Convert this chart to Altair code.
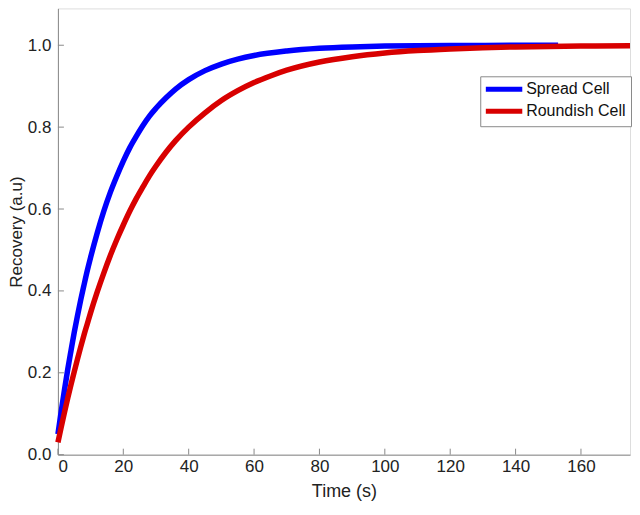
import altair as alt
import pandas as pd

# Values
spread_t = [0, 1, 2, 3, 4, 5, 6, 7, 8, 9, 10, 12, 14, 16, 18, 20, 22, 24, 26, 28, 30, 33, 36, 40, 45, 50, 55, 60, 70, 80, 90, 100, 120, 140, 153]
spread_v = [0.05, 0.105, 0.158, 0.208, 0.254, 0.299, 0.340, 0.379, 0.415, 0.450, 0.482, 0.541, 0.594, 0.640, 0.680, 0.717, 0.750, 0.778, 0.804, 0.827, 0.846, 0.871, 0.893, 0.916, 0.938, 0.954, 0.966, 0.975, 0.986, 0.9925, 0.996, 0.998, 0.9994, 0.9998, 1.0]

round_t = [0, 1, 2, 3, 4, 5, 6, 7, 8, 9, 10, 12, 14, 16, 18, 20, 22, 24, 26, 28, 30, 33, 36, 40, 45, 50, 55, 60, 65, 70, 80, 90, 100, 110, 120, 130, 140, 150, 160, 175]
round_v = [0.03, 0.067, 0.103, 0.138, 0.171, 0.203, 0.234, 0.264, 0.293, 0.320, 0.347, 0.397, 0.443, 0.486, 0.525, 0.561, 0.595, 0.626, 0.654, 0.681, 0.705, 0.738, 0.767, 0.800, 0.835, 0.865, 0.889, 0.909, 0.925, 0.939, 0.959, 0.972, 0.981, 0.987, 0.991, 0.994, 0.996, 0.997, 0.998, 0.999]

series_names = ["Spread Cell", "Roundish Cell"]
series_colors = ["#0000ff", "#d80000"]

x_ticks = [0, 20, 40, 60, 80, 100, 120, 140, 160]
y_ticks = [0.0, 0.2, 0.4, 0.6, 0.8, 1.0]

df = pd.DataFrame(
    [{"series": series_names[0], "t": t, "v": v} for t, v in zip(spread_t, spread_v)]
    + [{"series": series_names[1], "t": t, "v": v} for t, v in zip(round_t, round_v)]
)

W, H = 573, 447
FONT = "Liberation Sans"
AXIS_GRAY = "#8a8a8a"

xscale = alt.Scale(domain=[0, 175], nice=False, zero=False)
yscale = alt.Scale(domain=[0, 1.09], nice=False)

lines = alt.Chart(df).mark_line(strokeWidth=5.5, interpolate="monotone", strokeCap="butt").encode(
    x=alt.X("t:Q", scale=xscale, title="Time (s)",
            axis=alt.Axis(values=x_ticks, grid=False, ticks=False, tickSize=0, domainColor=AXIS_GRAY,
                          labelFontSize=17, titleFontSize=18, labelPadding=4, titlePadding=8,
                          labelColor="#222", titleColor="#222", titleFontWeight="normal",
                          labelFont=FONT, titleFont=FONT)),
    y=alt.Y("v:Q", scale=yscale, title="Recovery (a.u)",
            axis=alt.Axis(values=y_ticks, format=".1f", grid=False, ticks=False, tickSize=0,
                          domainColor=AXIS_GRAY, labelFontSize=17, titleFontSize=17,
                          labelPadding=7, titlePadding=2, labelColor="#222", titleColor="#222",
                          titleFontWeight="normal", labelFont=FONT, titleFont=FONT)),
    color=alt.Color("series:N", scale=alt.Scale(domain=series_names, range=series_colors),
                    sort=series_names,
                    legend=alt.Legend(title=None, orient="none", legendX=423, legendY=68,
                                      symbolType="M-1.4,0H5.5", symbolSize=112, symbolStrokeWidth=5,
                                      labelOffset=25, labelFontSize=16, labelFont=FONT,
                                      labelColor="#111", strokeColor=AXIS_GRAY, padding=5,
                                      rowPadding=2, fillColor="white")),
    detail="series:N",
)

xt = pd.DataFrame({"t": x_ticks})
yt = pd.DataFrame({"v": y_ticks})

xtick_marks = alt.Chart(xt).mark_rule(color=AXIS_GRAY, strokeWidth=1).encode(
    x=alt.X("t:Q", scale=xscale), y=alt.value(H), y2=alt.value(H - 6)
)
ytick_marks = alt.Chart(yt).mark_rule(color=AXIS_GRAY, strokeWidth=1).encode(
    y=alt.Y("v:Q", scale=yscale), x=alt.value(0), x2=alt.value(6)
)

chart = alt.layer(xtick_marks, ytick_marks, lines).properties(
    width=W, height=H,
    autosize=alt.AutoSizeParams(type="none"),
    padding={"left": 50, "top": 0, "right": 2, "bottom": 52},
).configure_view(stroke=None).configure(background="white")

chart.save("out.html", embed_options={"renderer": "svg", "actions": False})
